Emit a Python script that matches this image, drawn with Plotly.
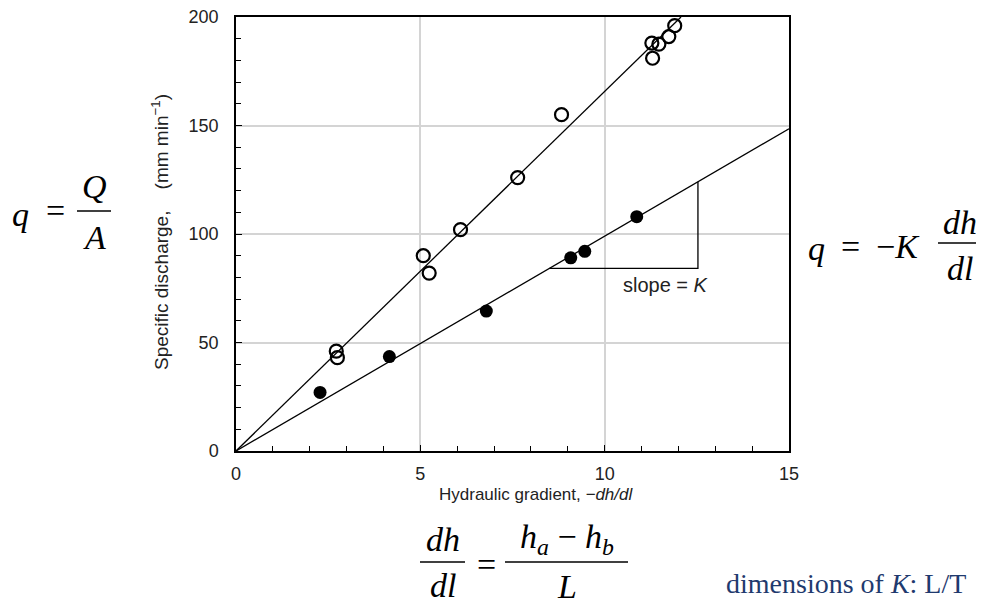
import plotly.graph_objects as go

# ---- data ----
open_x = [2.72, 2.75, 5.08, 5.24, 6.09, 7.64, 8.83, 11.28, 11.30, 11.47, 11.74, 11.90]
open_y = [46.0, 43.0, 90.0, 82.0, 102.0, 126.0, 155.0, 188.0, 181.0, 187.5, 191.0, 196.0]
fill_x = [2.28, 4.16, 6.79, 9.08, 9.46, 10.87]
fill_y = [27.0, 43.5, 64.5, 89.0, 92.0, 108.0]
slope_open = 16.57
slope_fill = 9.9
fit_open_x = [0, 12.07]
fit_fill_x = [0, 15]
tri_x = [8.5, 12.53, 12.53]
x_ticks = [0, 5, 10, 15]
y_ticks = [0, 50, 100, 150, 200]

W, H = 984, 610
L, R, T, B = 236, 195, 17, 159
PW, PH = W - L - R, H - T - B
OFF = 8  # page body margin


def px(x, y):
    return (x - L) / PW, (H - B - y) / PH


fig = go.Figure()
fig.add_trace(go.Scatter(x=fit_open_x, y=[v * slope_open for v in fit_open_x], mode="lines",
                         line=dict(color="black", width=1.3), showlegend=False))
fig.add_trace(go.Scatter(x=fit_fill_x, y=[v * slope_fill for v in fit_fill_x], mode="lines",
                         line=dict(color="black", width=1.3), showlegend=False))
tri_y = [tri_x[0] * slope_fill, tri_x[0] * slope_fill, tri_x[2] * slope_fill]
fig.add_trace(go.Scatter(x=tri_x, y=tri_y, mode="lines",
                         line=dict(color="black", width=1.3), showlegend=False))
fig.add_trace(go.Scatter(x=open_x, y=open_y, mode="markers",
                         marker=dict(symbol="circle-open", size=13, color="black", line=dict(width=2.2)),
                         showlegend=False))
fig.add_trace(go.Scatter(x=fill_x, y=fill_y, mode="markers",
                         marker=dict(symbol="circle", size=13, color="black"), showlegend=False))

tickfont = dict(family="Liberation Sans, Arial", size=18, color="#222")
fig.update_xaxes(range=[0, 15], tickvals=x_ticks, ticks="inside", ticklen=6, tickcolor="black",
                 showline=True, linecolor="black", linewidth=1.5, mirror=True,
                 showgrid=True, gridcolor="#d4d4d4", gridwidth=1.5, zeroline=False,
                 tickfont=tickfont, ticklabelstandoff=6, automargin=False,
                 ticklabeloverflow="allow",
                 minor=dict(dtick=1, ticks="inside", ticklen=5, tickcolor="black", showgrid=False))
fig.update_yaxes(range=[0, 200], tickvals=y_ticks, ticks="inside", ticklen=6, tickcolor="black",
                 showline=True, linecolor="black", linewidth=1.5, mirror=True,
                 showgrid=True, gridcolor="#d4d4d4", gridwidth=1.5, zeroline=False,
                 tickfont=tickfont, ticklabelstandoff=12, automargin=False,
                 ticklabeloverflow="allow",
                 minor=dict(dtick=10, ticks="inside", ticklen=5, tickcolor="black", showgrid=False))

ann = []
shapes = []
sans = "Liberation Sans, Arial"
serif = "Liberation Serif, Times New Roman"


def text(x, y, s, size, family=serif, color="black", angle=0, xanchor="center"):
    xp, yp = px(x, y)
    ann.append(dict(x=xp, y=yp, xref="paper", yref="paper", text=s, showarrow=False,
                    font=dict(family=family, size=size, color=color), textangle=angle,
                    xanchor=xanchor, yanchor="middle"))


def hline(x0, x1, y):
    a0, b0 = px(x0, y)
    a1, _ = px(x1, y)
    shapes.append(dict(type="line", xref="paper", yref="paper", x0=a0, x1=a1, y0=b0, y1=b0,
                       line=dict(color="black", width=1.3)))


# axis titles
text(536, 494, "Hydraulic gradient, <i>−dh/dl</i>", 17, sans, color="#222")
text(160, 232, "Specific discharge,\u00a0\u00a0\u00a0\u00a0(mm min<sup>−1</sup>)", 19, sans,
     color="#222", angle=-90)
text(666, 285, "slope = <i>K</i>", 20, sans, color="#222")

# q = Q/A
text(20, 214, "<i>q</i>", 34)
text(55, 211, "=", 34)
hline(77, 111, 211)
text(94, 186, "<i>Q</i>", 34)
text(94, 238, "<i>A</i>", 34)

# q = -K dh/dl
text(816, 248, "<i>q</i>", 34)
text(850, 246, "=", 34)
text(898, 246, "−<i>K</i>", 34)
hline(938, 984, 243)
text(960, 222, "<i>dh</i>", 34)
text(960, 268, "<i>dl</i>", 34)

# dh/dl = (ha - hb)/L
text(443, 539, "<i>dh</i>", 34)
hline(420, 465, 562)
text(443, 585, "<i>dl</i>", 34)
text(486, 564, "=", 34)
text(567, 539, "<i>h<sub>a</sub></i> − <i>h<sub>b</sub></i>", 34)
hline(505, 628, 562)
text(567, 586, "<i>L</i>", 34)

text(846, 583, "dimensions of <i>K</i>: L/T", 28, serif, color="#1f3a6e")

fig.update_layout(width=W - OFF, height=H - OFF,
                  margin=dict(l=L - OFF, r=R, t=T - OFF, b=B, autoexpand=False),
                  plot_bgcolor="white", paper_bgcolor="white",
                  annotations=ann, shapes=shapes, showlegend=False)
fig.write_html("out.html")
